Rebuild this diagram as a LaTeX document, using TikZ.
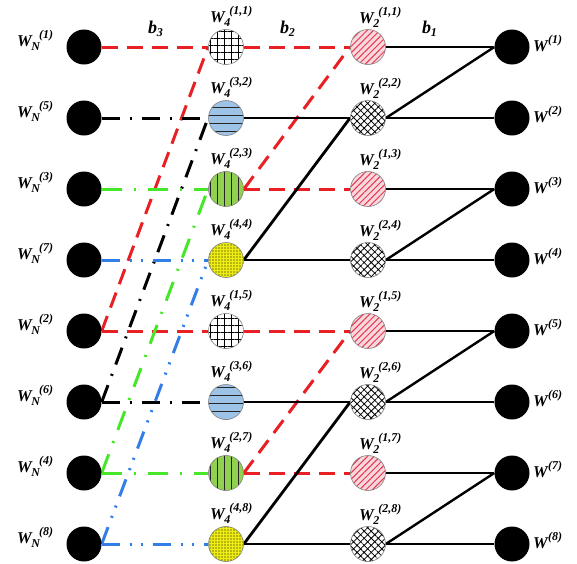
\documentclass[tikz,border=0pt]{standalone}
\usepackage{fontspec}
\setmainfont{Liberation Serif}
\usetikzlibrary{patterns.meta,backgrounds}
\definecolor{lnred}{RGB}{232,32,36}
\definecolor{lngreen}{RGB}{70,230,40}
\definecolor{lnblue}{RGB}{50,125,230}
\definecolor{fblue}{RGB}{157,195,230}
\definecolor{fgreen}{RGB}{146,208,80}
\definecolor{fyellow}{RGB}{238,238,20}
\definecolor{fpink}{RGB}{250,215,222}
\definecolor{hred}{RGB}{228,55,75}
\newcommand{\smallfs}{\fontsize{12}{13}\selectfont}
\newcommand{\WLab}[2]{W\kern-0.5pt\raisebox{-4.5pt}{\smallfs #1}\kern-1pt\raisebox{8pt}{\smallfs #2}}
\newcommand{\WOut}[1]{W\kern0.3pt\raisebox{8pt}{\smallfs #1}}
\newcommand{\BLab}[1]{b\kern-0.3pt\raisebox{-3pt}{\smallfs #1}}
\begin{document}
\begin{tikzpicture}[x=1pt,y=-1pt,
  lbl/.style={font={\fontsize{16.5}{18}\selectfont\bfseries\itshape}, inner sep=0pt, anchor=base west},
  blab/.style={font={\fontsize{18}{20}\selectfont\bfseries\itshape}, inner sep=0pt, anchor=base west},
  nd/.style={circle, minimum size=35pt, inner sep=0pt},
  blk/.style={nd, fill=black},
  gridnd/.style={nd, draw=gray, line width=0.6pt, preaction={fill=white}, pattern={Hatch[angle=0,distance=7pt,line width=0.7pt]}, pattern color=black},
  bluend/.style={nd, draw=gray, line width=0.6pt, preaction={fill=fblue}, pattern={Lines[angle=0,distance=8pt,line width=0.9pt]}, pattern color=black!85},
  grnnd/.style={nd, draw=gray, line width=0.6pt, preaction={fill=fgreen}, pattern={Lines[angle=90,distance=7pt,line width=0.9pt]}, pattern color=black!85},
  yelnd/.style={nd, draw=gray, line width=0.6pt, preaction={fill=fyellow}, pattern={Dots[distance=3pt,radius=0.6pt]}, pattern color=black},
  pinknd/.style={nd, draw=gray, line width=0.6pt, preaction={fill=fpink}, pattern={Lines[angle=45,distance=4.5pt,line width=1pt]}, pattern color=hred},
  xhnd/.style={nd, draw=gray, line width=0.6pt, preaction={fill=white}, pattern={Hatch[angle=45,distance=5pt,line width=0.8pt]}, pattern color=black},
  redln/.style={draw=lnred, line width=3pt, dash pattern=on 16pt off 9pt},
  blkdd/.style={draw=black, line width=3pt, dash pattern=on 18pt off 10pt on 2pt off 10pt},
  grnln/.style={draw=lngreen, line width=3pt, dash pattern=on 20pt off 12pt on 2pt off 12pt},
  bluln/.style={draw=lnblue, line width=3pt, dash pattern=on 18pt off 10pt on 2pt off 9pt on 2pt off 10pt},
  solidln/.style={draw=black, line width=2.8pt},
  thinln/.style={draw=black, line width=2.4pt}
]
\useasboundingbox (0,0) rectangle (577,563);

% column 1
\foreach \i/\s in {1/1,2/5,3/3,4/7,5/2,6/6,7/4,8/8} {
  \pgfmathsetmacro\yy{47+71*(\i-1)}
  \node[blk] (n\i) at (84,\yy) {};
  \node[lbl] (ln\i) at (17,\yy-1) {\WLab{N}{(\s)}};
}
% column 2
\foreach \i/\p/\st in {1/{(1,1)}/gridnd,2/{(3,2)}/bluend,3/{(2,3)}/grnnd,4/{(4,4)}/yelnd,5/{(1,5)}/gridnd,6/{(3,6)}/bluend,7/{(2,7)}/grnnd,8/{(4,8)}/yelnd} {
  \pgfmathsetmacro\yy{47+71*(\i-1)}
  \node[\st] (a\i) at (226,\yy) {};
  \node[lbl] (la\i) at (210,\yy-25) {\WLab{4}{\p}};
}
% column 3
\foreach \i/\p/\st in {1/{(1,1)}/pinknd,2/{(2,2)}/xhnd,3/{(1,3)}/pinknd,4/{(2,4)}/xhnd,5/{(1,5)}/pinknd,6/{(2,6)}/xhnd,7/{(1,7)}/pinknd,8/{(2,8)}/xhnd} {
  \pgfmathsetmacro\yy{47+71*(\i-1)}
  \node[\st] (b\i) at (368,\yy) {};
  \node[lbl] (lb\i) at (359,\yy-24) {\WLab{2}{\p}};
}
% column 4
\foreach \i in {1,...,8} {
  \pgfmathsetmacro\yy{47+71*(\i-1)}
  \node[blk] (c\i) at (512,\yy) {};
  \node[lbl] (lc\i) at (533,\yy+4) {\WOut{(\i)}};
}
% stage labels
\node[blab] (b3l) at (148,33) {\BLab{3}};
\node[blab] (b2l) at (280,33) {\BLab{2}};
\node[blab] (b1l) at (422,33) {\BLab{1}};

\begin{pgfonlayer}{background}
% stage b3
\draw[redln] (n1.east) -- (a1.west);
\draw[redln] (n5.east) -- (a1.west);
\draw[redln] (n5.east) -- (a5.west);
\draw[blkdd] (n2.east) -- (a2.west);
\draw[blkdd] (n6.east) -- (a2.west);
\draw[blkdd] (n6.east) -- (a6.west);
\draw[grnln] (n3.east) -- (a3.west);
\draw[grnln] (n7.east) -- (a3.west);
\draw[grnln] (n7.east) -- (a7.west);
\draw[bluln] (n4.east) -- (a4.west);
\draw[bluln] (n8.east) -- (a4.west);
\draw[bluln] (n8.east) -- (a8.west);
% stage b2
\draw[redln] (a1.east) -- (b1.west);
\draw[redln] (a3.east) -- (b1.west);
\draw[redln] (a3.east) -- (b3.west);
\draw[solidln] (a2.east) -- (b2.west);
\draw[solidln] (a4.east) -- (b2.west);
\draw[solidln] (a4.east) -- (b4.west);
\draw[redln] (a5.east) -- (b5.west);
\draw[redln] (a7.east) -- (b5.west);
\draw[redln] (a7.east) -- (b7.west);
\draw[solidln] (a6.east) -- (b6.west);
\draw[solidln] (a8.east) -- (b6.west);
\draw[solidln] (a8.east) -- (b8.west);
% stage b1
\foreach \i in {1,...,8} { \draw[thinln] (b\i.east) -- (c\i.west); }
\draw[thinln] (b2.east) -- (c1.west);
\draw[thinln] (b4.east) -- (c3.west);
\draw[thinln] (b6.east) -- (c5.west);
\draw[thinln] (b8.east) -- (c7.west);
\end{pgfonlayer}
\end{tikzpicture}
\end{document}
